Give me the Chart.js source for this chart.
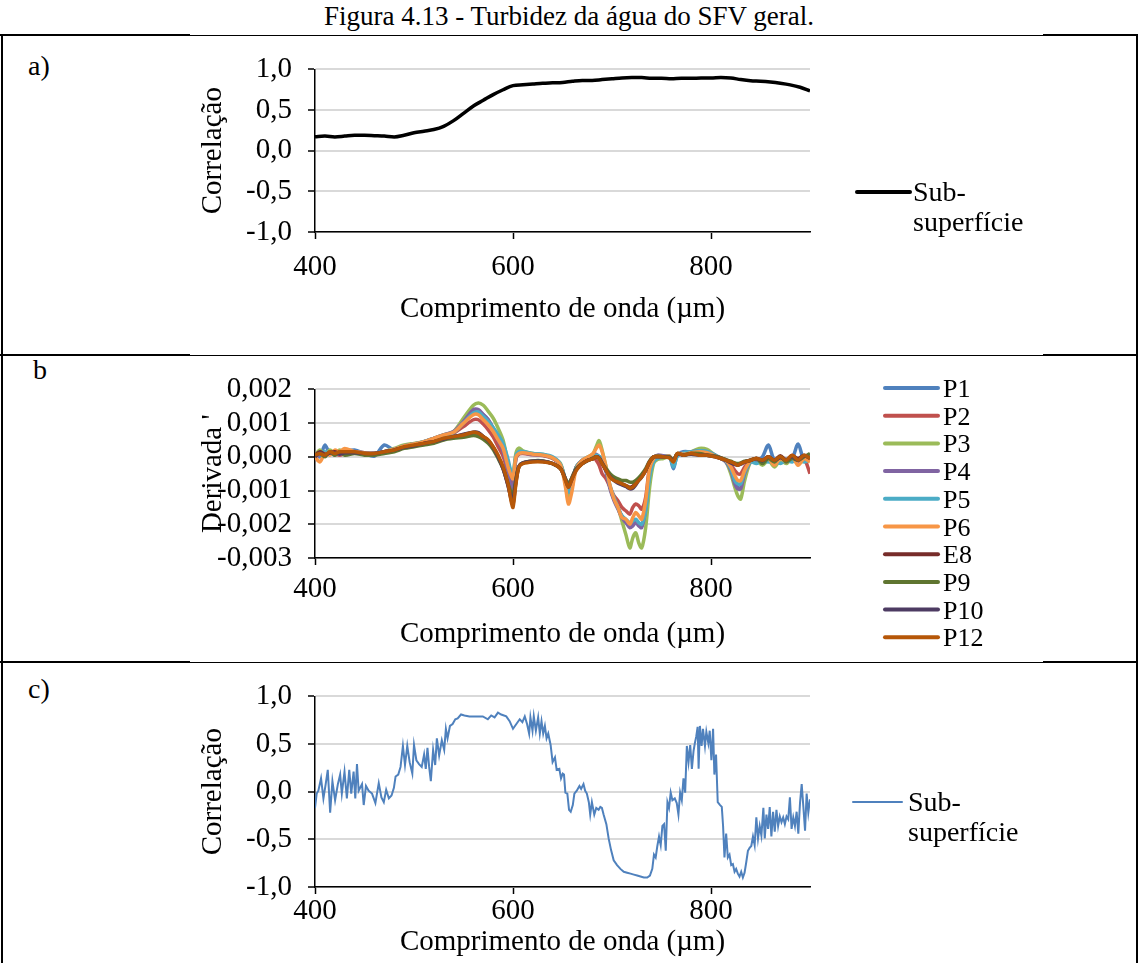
<!DOCTYPE html>
<html lang="pt-BR">
<head>
<meta charset="utf-8">
<title>Figura 4.13 - Turbidez da água do SFV geral</title>
<script src="https://cdn.jsdelivr.net/npm/chart.js@4.4.1/dist/chart.umd.min.js"></script>
<style>
  body { margin: 0; background: #fff; width: 1138px; height: 963px; position: relative; overflow: hidden;
         font-family: "Liberation Serif", "Times New Roman", "DejaVu Serif", serif; color: #000; }
  #titulo { position: absolute; left: 0; width: 1138px; top: 3px; text-align: center; font-size: 27px; line-height: 1;
            font-family: "Liberation Serif", "Times New Roman", serif; }
  .linha { position: absolute; background: #000; z-index: 2; }
  .letra { position: absolute; font-size: 28px; line-height: 1; font-family: "Liberation Serif", "Times New Roman", serif; }
  canvas { position: absolute; left: 0; }
</style>
</head>
<body>
<div id="titulo">Figura 4.13 - Turbidez da água do SFV geral.</div>

<div class="letra" style="left:28px;top:52px">a)</div>
<div class="letra" style="left:33px;top:356px">b</div>
<div class="letra" style="left:28px;top:675px">c)</div>

<canvas id="grafA" width="1138" height="318" style="top:36px"></canvas>
<canvas id="grafB" width="1138" height="305" style="top:356px"></canvas>
<canvas id="grafC" width="1138" height="300" style="top:663px"></canvas>

<script>
// ---------- dados ----------
const marcasX = [400, 600, 800];
const marcasCorr = [-1, -0.5, 0, 0.5, 1];
const marcasDeriv = [-0.003, -0.002, -0.001, 0, 0.001, 0.002];

// a) correlação, subsuperfície
const ondaA = [400, 410, 420, 430, 440, 450, 460, 470, 480, 490,
  500, 510, 520, 530, 540, 550, 560, 570, 580, 590,
  600, 610, 620, 630, 640, 650, 660, 670, 680, 690,
  700, 710, 720, 730, 740, 750, 760, 770, 780, 790,
  800, 810, 820, 830, 840, 850, 860, 870, 880, 890, 900];
const corrA = [0.17, 0.18, 0.17, 0.18, 0.19, 0.19, 0.185, 0.18, 0.17, 0.19,
  0.22, 0.24, 0.26, 0.30, 0.37, 0.46, 0.55, 0.62, 0.69, 0.75,
  0.80, 0.81, 0.82, 0.83, 0.835, 0.84, 0.855, 0.865, 0.865, 0.875,
  0.885, 0.895, 0.90, 0.90, 0.89, 0.89, 0.885, 0.89, 0.89, 0.895,
  0.895, 0.90, 0.895, 0.875, 0.86, 0.855, 0.845, 0.83, 0.81, 0.78, 0.735];
const rotuloA = 'Sub-superfície';

// b) derivada primeira por ponto
const ondaB = [400, 405, 410, 415, 420, 425, 430, 440, 450, 460,
  470, 480, 490, 500, 510, 520, 530, 540, 550, 560,
  565, 570, 575, 580, 585, 590, 595, 598, 600, 603,
  606, 610, 620, 630, 640, 648, 653, 656, 659, 664,
  670, 676, 681, 684, 687, 690, 694, 698, 702, 706,
  710, 714, 718, 721, 724, 727, 730, 734, 738, 742,
  746, 752, 758, 762, 766, 772, 780, 788, 796, 804,
  810, 815, 820, 824, 827, 830, 834, 840, 846, 852,
  858, 864, 870, 876, 882, 888, 894, 900];

const pontos = ['P1', 'P2', 'P3', 'P4', 'P5', 'P6', 'E8', 'P9', 'P10', 'P12'];
const coresPontos = ['#4f81bd', '#c0504d', '#9bbb59', '#8064a2', '#4bacc6',
  '#f79646', '#772c2a', '#5f7530', '#4d3b62', '#b65708'];

const derivP1 = [0.0001, 0, 0.00035, 0.0001, 0.00015, 0.0001, 0.00015, 0.0002, 0.0001, 0.00002,
  0.00035, 0.0002, 0.0003, 0.00035, 0.00045, 0.00055, 0.00065, 0.0007, 0.001, 0.00135,
  0.00135, 0.00125, 0.0011, 0.0008, 0.0005, 0.00016, -0.00045, -0.00085, -0.00095, 0,
  0.0001, 0.00015, 0.00008, 0.00006, -0.00003, -0.00025, -0.00075, -0.0011, -0.00085, -0.0003,
  -0.00012, -0.00003, 0.00003, 0.00005, 0, -0.0001, -0.0004, -0.0009, -0.00125, -0.0015,
  -0.00175, -0.0019, -0.00205, -0.002, -0.0019, -0.002, -0.00205, -0.0015, -0.0004, -0.0001,
  -0.00005, 0, 0.00002, -0.00035, 0.00005, 0.00015, 0.00015, 0.0002, 0.00015, 0.00005,
  -0.00005, -0.0001, -0.0004, -0.00075, -0.0009, -0.00095, -0.0005, -0.0001, -0.00015, 0,
  0.00035, -0.0001, -0.00005, -0.00015, -0.00005, 0.00038, -0.0001, -0.00005];
const derivP2 = [-0.00005, 0.0001, 0.00005, 0.00015, 0.0001, 0.00005, 0.0001, 0.00012, 0.0001, 0.0001,
  0.00015, 0.0002, 0.0003, 0.00035, 0.00042, 0.0005, 0.0006, 0.0007, 0.0009, 0.0011,
  0.0011, 0.00097, 0.0008, 0.00059, 0.0003, 0.00002, -0.0005, -0.0008, -0.0009, -0.00005,
  0.00008, 0.0001, 0.00006, 0.00004, -0.00005, -0.00025, -0.0007, -0.001, -0.0008, -0.0003,
  -0.00015, -0.00005, 0, -0.0001, -0.00025, -0.0005, -0.00065, -0.0009, -0.00115, -0.0013,
  -0.0015, -0.0016, -0.0017, -0.0015, -0.0014, -0.00145, -0.00155, -0.0012, -0.0003, -0.00005,
  0, 0.00002, 0, -0.00015, 0.00005, 0.0001, 0.00012, 0.00015, 0.00012, 0.00002,
  -0.00005, -0.0001, -0.00025, -0.0004, -0.0005, -0.0005, -0.0003, -0.0001, -0.00005, -0.0001,
  0, -0.00015, 0, -0.0001, 0.00005, -0.0001, -0.00005, -0.0005];
const derivP3 = [0.00005, 0.0002, 0.00005, 0.0002, 0.0001, 0.0002, 0.0001, 0.00015, 0.0001, 0.00008,
  0.00015, 0.00025, 0.00035, 0.0004, 0.00045, 0.00055, 0.00065, 0.00075, 0.00115, 0.00153,
  0.0016, 0.00153, 0.00135, 0.00115, 0.00085, 0.00049, -0.00017, -0.00045, -0.00055, 0.00011,
  0.00026, 0.00018, 0.0001, 0.00007, -0.00003, -0.0002, -0.0008, -0.0013, -0.001, -0.0003,
  -0.0001, 0, 0.0001, 0.0003, 0.00048, 0.0002, -0.0003, -0.0009, -0.00125, -0.0015,
  -0.0019, -0.0023, -0.0027, -0.0024, -0.00225, -0.00255, -0.0027, -0.0021, -0.0009, -0.0002,
  -0.00008, -0.00005, 0, -0.00015, 0.00005, 0.0001, 0.00015, 0.00025, 0.00022, 0.00005,
  -0.00005, -0.00015, -0.0005, -0.0009, -0.00115, -0.00125, -0.0007, -0.00015, -0.0001, -0.00025,
  -0.0001, -0.0003, -0.0001, -0.0002, -0.00005, -0.0002, -0.0001, 0];
const derivP4 = [-0.0001, 0.0001, 0.00005, 0.00015, 0.00005, 0.00015, 0.0001, 0.00015, 0.00012, 0.0001,
  0.00015, 0.00022, 0.00032, 0.00038, 0.00045, 0.00055, 0.00065, 0.00075, 0.00105, 0.0014,
  0.0014, 0.00125, 0.0011, 0.00085, 0.0005, 0.00016, -0.00045, -0.0009, -0.00105, 0,
  0.0001, 0.00012, 0.00007, 0.00005, -0.00003, -0.00025, -0.00075, -0.00105, -0.00085, -0.0003,
  -0.0001, -0.00003, 0.00003, 0.00008, 0, -0.00015, -0.00045, -0.00095, -0.0013, -0.00155,
  -0.0018, -0.00195, -0.0021, -0.00205, -0.00195, -0.00205, -0.0021, -0.00155, -0.00045, -0.00005,
  0.00005, 0.00003, 0, -0.00015, 0.00005, 0.00012, 0.00015, 0.00018, 0.00015, 0.00005,
  -0.00005, -0.00015, -0.0004, -0.0008, -0.00095, -0.00095, -0.0005, -0.00015, -0.0001, -0.00015,
  -0.00005, -0.00015, -0.00005, -0.00015, 0, -0.00015, -0.00005, -0.0001];
const derivP5 = [0.00005, 0.0001, 0.00015, 0.0001, 0.00015, 0.0001, 0.00015, 0.00012, 0.0001, 0.0001,
  0.00015, 0.00023, 0.00032, 0.00038, 0.00045, 0.00053, 0.00063, 0.00072, 0.001, 0.0013,
  0.00133, 0.0012, 0.00105, 0.00087, 0.00065, 0.0004, -0.00008, -0.00045, -0.00055, 0.00005,
  0.00016, 0.00016, 0.0001, 0.00008, 0, -0.00022, -0.0007, -0.00105, -0.0008, -0.0003,
  -0.0001, 0, 0.00003, 0.00005, 0.00002, -0.00005, -0.00035, -0.00085, -0.0012, -0.0015,
  -0.00175, -0.00185, -0.00195, -0.0019, -0.00185, -0.00195, -0.002, -0.0016, -0.0006, -0.00015,
  -0.00005, 0, 0.00002, -0.0003, 0.00002, 0.00012, 0.00015, 0.00018, 0.00016, 0.00005,
  -0.00003, -0.00012, -0.00035, -0.0007, -0.0008, -0.0008, -0.00045, -0.00015, -0.0002, -0.0001,
  -0.00015, -0.0001, -0.0002, -0.0001, -0.00015, -0.00005, -0.00015, -0.0001];
const derivP6 = [0, -0.00015, 0.0001, 0.00005, 0.0002, 0.00015, 0.00025, 0.00015, 0.00012, 0.0001,
  0.00015, 0.00023, 0.00032, 0.00038, 0.00045, 0.00055, 0.00065, 0.00073, 0.001, 0.00125,
  0.00125, 0.0011, 0.00095, 0.00075, 0.0005, 0.00025, -0.0003, -0.00055, -0.00065, 0,
  0.0001, 0.00012, 0.00008, 0.00005, -0.00003, -0.00025, -0.0009, -0.0014, -0.0011, -0.00035,
  -0.0001, 0, 0.0001, 0.00025, 0.00035, 0.00015, -0.0003, -0.00085, -0.00125, -0.0015,
  -0.0018, -0.00185, -0.002, -0.0018, -0.00165, -0.00175, -0.00185, -0.0013, -0.00035, -0.00005,
  0.00003, 0, 0.00002, -0.00015, 0.0001, 0.00008, 0.00012, 0.00015, 0.00012, 0.00003,
  -0.00003, -0.0001, -0.0003, -0.00055, -0.0007, -0.0007, -0.0004, -0.0001, -0.00005, -0.00015,
  -0.00005, -0.00025, -0.00005, -0.00015, 0, -0.00025, -0.00005, -0.00015];
const derivE8 = [0.00005, 0.00015, 0.00008, 0.00012, 0.00015, 0.0001, 0.00015, 0.00013, 0.0001, 0.0001,
  0.00015, 0.0002, 0.00028, 0.00033, 0.0004, 0.00045, 0.00053, 0.0006, 0.00065, 0.00072,
  0.0007, 0.0006, 0.00048, 0.00028, 0, -0.00035, -0.00085, -0.00125, -0.0014, -0.00075,
  -0.0003, -0.00018, -0.00013, -0.00013, -0.0002, -0.00035, -0.00065, -0.00085, -0.00065, -0.00035,
  -0.0002, -0.0001, -0.00005, 0, -0.00003, -0.0002, -0.0004, -0.00055, -0.00068, -0.00075,
  -0.0008, -0.00085, -0.0009, -0.00087, -0.00078, -0.00068, -0.00058, -0.0004, -0.00015, 0,
  0.00002, 0, 0, -0.0001, 0.0001, 0.00005, 0.0001, 0.00008, 0.00005, 0.00002,
  -0.00003, -0.0001, -0.00015, -0.0002, -0.00023, -0.0002, -0.00015, -0.0001, -0.00005, -0.0001,
  0, -0.0001, 0.00003, -0.0001, 0.00003, -0.00005, 0.00005, -0.00005];
const derivP9 = [0.00003, 0.0001, 0, 0.00015, 0.00005, 0.00015, 0.00005, 0.0001, 0.00005, 0.00005,
  0.0001, 0.00015, 0.00025, 0.0003, 0.00035, 0.0004, 0.0005, 0.00055, 0.00058, 0.00063,
  0.0006, 0.00052, 0.0004, 0.00022, -0.00005, -0.00035, -0.0008, -0.00105, -0.00115, -0.00065,
  -0.00028, -0.00018, -0.00012, -0.00012, -0.0002, -0.00035, -0.00065, -0.0008, -0.00065, -0.00035,
  -0.0002, -0.0001, -0.00003, 0, -0.00005, -0.00018, -0.00035, -0.0005, -0.0006, -0.00065,
  -0.0007, -0.0007, -0.00075, -0.00075, -0.0007, -0.00062, -0.00052, -0.00035, -0.00012, 0,
  0.00002, 0, 0, -0.0001, 0.0001, 0.00005, 0.0001, 0.0001, 0.00005, 0.00002,
  -0.00003, -0.00008, -0.00013, -0.00018, -0.0002, -0.00018, -0.00013, -0.0001, -0.00005, -0.0002,
  -0.00005, -0.00015, 0, -0.00015, -0.00005, -0.0001, 0, 0.0001];
const derivP10 = [0, 0.00012, 0.00005, 0.00012, 0.00012, 0.00008, 0.00012, 0.00012, 0.0001, 0.0001,
  0.00015, 0.0002, 0.00028, 0.00033, 0.0004, 0.00045, 0.00053, 0.0006, 0.00067, 0.00073,
  0.00072, 0.0006, 0.00048, 0.00028, 0, -0.00035, -0.00085, -0.0012, -0.0013, -0.0007,
  -0.00028, -0.00018, -0.00013, -0.00013, -0.0002, -0.00035, -0.00068, -0.0009, -0.0007, -0.00038,
  -0.0002, -0.0001, -0.00005, 0, -0.00003, -0.00018, -0.0004, -0.00058, -0.0007, -0.00078,
  -0.00083, -0.00088, -0.00095, -0.00093, -0.00083, -0.0007, -0.0006, -0.0004, -0.00015, 0,
  0, 0, -0.00002, -0.00012, 0.00008, 0.00005, 0.00008, 0.00005, 0.00005, 0,
  -0.00005, -0.0001, -0.00018, -0.00023, -0.00025, -0.00022, -0.00015, -0.0001, -0.00005, -0.00012,
  0, -0.0001, -0.00003, -0.00008, 0, -0.0001, 0.00003, -0.00003];
const derivP12 = [0.00005, 0.0001, 0.00005, 0.00015, 0.0001, 0.00015, 0.00015, 0.00015, 0.0001, 0.0001,
  0.00015, 0.0002, 0.0003, 0.00035, 0.0004, 0.00045, 0.00055, 0.0006, 0.00065, 0.00073,
  0.0007, 0.0006, 0.0005, 0.0003, 0.00005, -0.0003, -0.0008, -0.0013, -0.0015, -0.0008,
  -0.0003, -0.0002, -0.00015, -0.00015, -0.0002, -0.00035, -0.0007, -0.0009, -0.0007, -0.0004,
  -0.0002, -0.0001, -0.00005, 0, -0.00005, -0.0002, -0.0004, -0.0006, -0.0007, -0.00075,
  -0.0008, -0.00085, -0.00093, -0.0009, -0.0008, -0.0007, -0.0006, -0.0004, -0.00015, 0,
  0, 0, -0.00003, -0.00015, 0.0001, 0.00005, 0.0001, 0.00005, 0.00005, 0,
  -0.00005, -0.0001, -0.00015, -0.0002, -0.00025, -0.0002, -0.00015, -0.0001, -0.00005, -0.0001,
  0, -0.0001, 0, -0.0001, 0.00005, -0.0001, 0.00005, -0.00005];
const derivadas = [derivP1, derivP2, derivP3, derivP4, derivP5, derivP6, derivE8, derivP9, derivP10, derivP12];

// c) correlação da derivada, subsuperfície
const ondaC = [400.0, 401.7, 403.4, 406.1, 408.5, 410.8, 412.9, 415.3, 417.6, 420.3,
  423.1, 425.4, 427.1, 429.8, 432.2, 434.6, 436.6, 439.0, 440.7, 442.4,
  444.1, 447.5, 449.2, 451.5, 454.2, 457.6, 461.0, 464.4, 467.1, 469.5,
  471.9, 474.6, 477.3, 479.7, 481.4, 484.1, 486.4, 488.8, 490.9, 493.2,
  495.6, 498.3, 500.0, 502.4, 505.1, 507.8, 510.2, 511.9, 513.6, 515.3,
  517.0, 519.3, 521.4, 523.1, 525.4, 528.1, 530.5, 532.2, 533.9, 536.3,
  539.0, 541.7, 544.1, 547.5, 550.9, 556.0, 562.7, 569.5, 574.6, 578.0,
  581.4, 584.8, 588.1, 593.2, 596.6, 600.0, 603.4, 606.8, 609.5, 611.9,
  614.2, 616.3, 617.6, 619.7, 621.0, 623.1, 625.4, 627.1, 628.8, 630.5,
  632.2, 633.9, 635.6, 638.0, 640.0, 642.4, 644.1, 646.8, 648.5, 650.2,
  651.5, 652.9, 654.9, 656.6, 658.3, 660.4, 662.0, 664.4, 667.1, 668.8,
  671.2, 672.9, 674.6, 676.6, 678.0, 679.7, 682.1, 684.1, 686.5, 688.2,
  689.8, 691.5, 694.3, 696.6, 699.0, 701.7, 705.1, 708.5, 711.9, 715.3,
  718.7, 722.1, 725.4, 728.8, 732.2, 735.6, 738.3, 740.7, 742.4, 744.1,
  745.8, 747.5, 749.2, 750.9, 752.6, 754.3, 756.0, 757.6, 759.3, 761.0,
  763.4, 765.4, 767.1, 768.8, 770.5, 772.2, 773.9, 775.6, 777.3, 779.0,
  780.7, 782.4, 783.7, 785.1, 786.5, 787.5, 788.8, 790.5, 791.9, 793.9,
  795.3, 797.3, 798.7, 800.4, 802.1, 803.4, 805.1, 806.8, 809.2, 810.9,
  812.2, 813.6, 815.3, 817.0, 818.7, 820.4, 822.1, 823.8, 825.4, 827.1,
  828.8, 830.5, 832.2, 833.9, 835.6, 837.3, 839.0, 840.7, 842.4, 844.1,
  845.8, 847.5, 849.2, 850.9, 852.9, 854.3, 856.0, 857.7, 859.3, 861.0,
  862.7, 864.4, 866.1, 867.8, 869.5, 871.2, 872.9, 874.6, 876.3, 878.0,
  879.7, 881.4, 883.1, 884.8, 886.5, 888.2, 889.9, 891.6, 893.3, 895.0,
  896.6, 898.3, 900.0];
const corrC = [-0.17, -0.02, 0.01, 0.14, -0.07, 0.08, 0.23, -0.22, 0.11, -0.09,
  0.08, 0.18, -0.02, 0.21, -0.07, 0.23, -0.02, 0.21, -0.07, 0.29,
  0.01, 0.08, -0.14, 0.06, 0.01, -0.02, -0.12, 0.09, -0.06, -0.11,
  0.02, -0.07, -0.04, 0.04, 0.16, 0.18, 0.26, 0.48, 0.28, 0.48,
  0.31, 0.19, 0.49, 0.33, 0.29, 0.26, 0.39, 0.24, 0.46, 0.26,
  0.11, 0.44, 0.28, 0.56, 0.38, 0.54, 0.44, 0.66, 0.56, 0.69,
  0.71, 0.76, 0.77, 0.81, 0.80, 0.79, 0.79, 0.79, 0.76, 0.80,
  0.78, 0.83, 0.81, 0.79, 0.74, 0.66, 0.71, 0.76, 0.73, 0.79,
  0.71, 0.61, 0.78, 0.64, 0.79, 0.64, 0.78, 0.61, 0.74, 0.61,
  0.69, 0.56, 0.61, 0.49, 0.31, 0.36, 0.23, 0.24, 0.14, 0.19,
  0.18, -0.01, -0.02, -0.19, -0.21, -0.14, -0.02, 0.01, 0.06, 0.03,
  0.08, 0.01, -0.02, -0.11, -0.24, -0.11, -0.24, -0.17, -0.19, -0.16,
  -0.17, -0.24, -0.34, -0.49, -0.61, -0.72, -0.77, -0.81, -0.84, -0.85,
  -0.86, -0.87, -0.88, -0.89, -0.90, -0.90, -0.88, -0.81, -0.66, -0.69,
  -0.57, -0.47, -0.56, -0.36, -0.34, -0.62, -0.11, -0.17, -0.01, -0.09,
  -0.07, -0.12, -0.24, -0.01, -0.09, 0.14, -0.01, 0.48, 0.31, 0.49,
  0.24, 0.43, 0.51, 0.58, 0.68, 0.24, 0.69, 0.48, 0.66, 0.48,
  0.63, 0.51, 0.64, 0.33, 0.66, 0.18, 0.39, -0.11, -0.14, -0.16,
  -0.36, -0.69, -0.44, -0.69, -0.66, -0.77, -0.76, -0.84, -0.81, -0.86,
  -0.89, -0.84, -0.90, -0.85, -0.74, -0.62, -0.59, -0.57, -0.47, -0.56,
  -0.27, -0.49, -0.36, -0.46, -0.17, -0.49, -0.24, -0.39, -0.16, -0.47,
  -0.21, -0.42, -0.19, -0.36, -0.26, -0.32, -0.27, -0.34, -0.26, -0.29,
  -0.06, -0.39, -0.27, -0.36, -0.21, -0.44, -0.12, 0.08, -0.16, -0.41,
  -0.02, -0.22, -0.08];
const rotuloC = 'Sub-superfície';

// ---------- estilo ----------
const familia = '"Liberation Serif", "Times New Roman", serif';
Chart.defaults.font.family = familia;
Chart.defaults.color = '#000';
const fonteTick = { family: familia, size: 29 };
const fonteEixo = { family: familia, size: 29 };

// legenda ao lado do gráfico, com quebra depois do hífen
const legendaLateral = {
  id: 'legendaLateral',
  afterDraw(chart, args, opts) {
    const ctx = chart.ctx;
    ctx.save();
    ctx.font = opts.tamanho + 'px ' + familia;
    ctx.fillStyle = '#000';
    ctx.textBaseline = 'alphabetic';
    ctx.lineCap = 'round';
    chart.data.datasets.forEach((ds, i) => {
      const y = opts.y + i * (opts.passo || 0);
      ctx.strokeStyle = ds.borderColor;
      ctx.lineWidth = opts.espessura;
      ctx.beginPath();
      ctx.moveTo(opts.x, y);
      ctx.lineTo(opts.x + opts.comprimento, y);
      ctx.stroke();
      ds.label.split(/(?<=-)/).forEach((parte, k) => {
        ctx.fillText(parte, opts.xTexto, y + opts.base + k * (opts.entrelinha || 0));
      });
    });
    ctx.restore();
  }
};

function eixoX(padTick, altura) {
  return {
    type: 'linear', position: 'bottom', min: 400, max: 900,
    afterBuildTicks: eixo => { eixo.ticks = marcasX.map(v => ({ value: v })); },
    afterFit: eixo => { eixo.height = altura; },
    grid: { drawOnChartArea: false, tickLength: 7, tickColor: '#000', tickWidth: 1.5 },
    border: { color: '#000', width: 1.5 },
    ticks: { font: fonteTick, padding: padTick, maxRotation: 0, autoSkip: false },
    title: { display: true, text: 'Comprimento de onda (µm)', font: fonteEixo, padding: 0 }
  };
}

function eixoY(marcas, casas, titulo) {
  return {
    min: marcas[0], max: marcas[marcas.length - 1],
    afterBuildTicks: eixo => { eixo.ticks = marcas.map(v => ({ value: v })); },
    afterFit: eixo => { eixo.width = 119; },
    grid: { color: '#d9d9d9', lineWidth: 2, tickLength: 7, tickColor: '#000', tickWidth: 1.5 },
    border: { color: '#000', width: 1.5 },
    ticks: { font: fonteTick, padding: 16, autoSkip: false, callback: v => v.toFixed(casas).replace('.', ',') },
    title: { display: true, text: titulo, font: fonteEixo, padding: 0 }
  };
}

function opcoesBase(padding, eixos, legenda) {
  return {
    responsive: false,
    devicePixelRatio: 1,
    animation: false,
    layout: { padding },
    elements: { point: { radius: 0 } },
    scales: eixos,
    plugins: { legend: { display: false }, tooltip: { enabled: false }, legendaLateral: legenda }
  };
}

const pares = (xs, ys) => xs.map((x, i) => ({ x, y: ys[i] }));

// a)
new Chart(document.getElementById('grafA'), {
  type: 'line',
  data: { datasets: [{
    label: rotuloA, data: pares(ondaA, corrA),
    borderColor: '#000', borderWidth: 3.5, cubicInterpolationMode: 'monotone'
  }] },
  options: opcoesBase({ left: 196, right: 328, top: 26, bottom: 27 },
    { x: eixoX(11, 95), y: eixoY(marcasCorr, 1, 'Correlação') },
    { x: 857, comprimento: 53, y: 156, xTexto: 913, base: 9, entrelinha: 30, espessura: 4, tamanho: 28 }),
  plugins: [legendaLateral]
});

// b)
new Chart(document.getElementById('grafB'), {
  type: 'line',
  data: { datasets: pontos.map((nome, i) => ({
    label: nome, data: pares(ondaB, derivadas[i]),
    borderColor: coresPontos[i], borderWidth: 3.5, tension: 0.3,
    order: pontos.length - i
  })) },
  options: opcoesBase({ left: 196, right: 328, top: 29, bottom: 9 },
    { x: eixoX(7, 94), y: eixoY(marcasDeriv, 3, "Derivada '") },
    { x: 885, comprimento: 53, y: 32, passo: 27.7, xTexto: 943, base: 9, espessura: 4, tamanho: 26 }),
  plugins: [legendaLateral]
});

// c)
new Chart(document.getElementById('grafC'), {
  type: 'line',
  data: { datasets: [{
    label: rotuloC, data: pares(ondaC, corrC),
    borderColor: '#4f81bd', borderWidth: 2, tension: 0
  }] },
  options: opcoesBase({ left: 196, right: 328, top: 25, bottom: 3 },
    { x: eixoX(0, 73), y: eixoY(marcasCorr, 1, 'Correlação') },
    { x: 853, comprimento: 49, y: 139, xTexto: 908, base: 9, entrelinha: 30, espessura: 2, tamanho: 28 }),
  plugins: [legendaLateral]
});

// ---------- molduras ----------
function linha(x, y, w, h) {
  const d = document.createElement('div');
  d.className = 'linha';
  Object.assign(d.style, { left: x + 'px', top: y + 'px', width: w + 'px', height: h + 'px' });
  document.body.appendChild(d);
}
[35, 355, 662].forEach(y => {
  linha(0, y, 1138, 1);
  linha(0, y - 1, 190, 2);
  linha(1043, y - 1, 95, 2);
});
linha(1, 35, 2, 928);
linha(1136, 35, 2, 928);
</script>
</body>
</html>
